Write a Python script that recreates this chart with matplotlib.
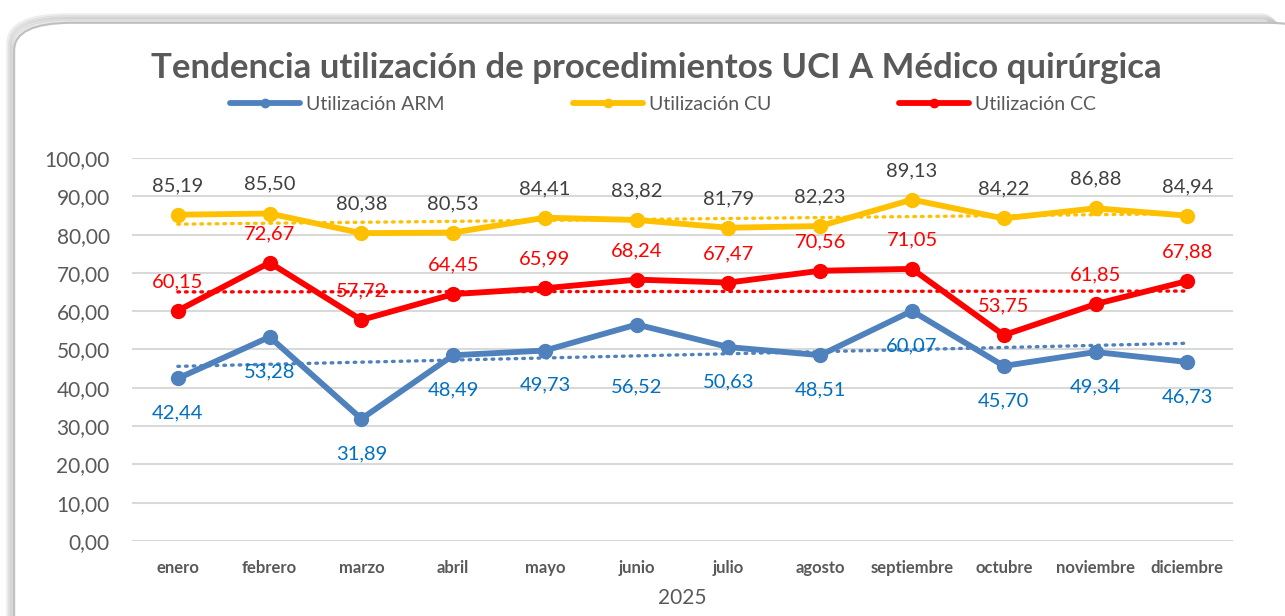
import numpy as np
import matplotlib.pyplot as plt
from matplotlib.patches import FancyBboxPatch

meses = ['enero', 'febrero', 'marzo', 'abril', 'mayo', 'junio', 'julio',
         'agosto', 'septiembre', 'octubre', 'noviembre', 'diciembre']
arm = [42.44, 53.28, 31.89, 48.49, 49.73, 56.52, 50.63, 48.51, 60.07, 45.70, 49.34, 46.73]
cu = [85.19, 85.50, 80.38, 80.53, 84.41, 83.82, 81.79, 82.23, 89.13, 84.22, 86.88, 84.94]
cc = [60.15, 72.67, 57.72, 64.45, 65.99, 68.24, 67.47, 70.56, 71.05, 53.75, 61.85, 67.88]
yticks = [0, 10, 20, 30, 40, 50, 60, 70, 80, 90, 100]

plt.rcParams['font.family'] = ['Lato', 'DejaVu Sans']

BLUE = '#4F81BD'
GOLD = '#FFC000'
RED = '#FF0000'
GRAY = '#595959'


def fmt(v):
    return f'{v:.2f}'.replace('.', ',')


fig = plt.figure(figsize=(12.85, 6.16), dpi=100)

# rounded frame with a soft shadow, like the Excel chart area
for i, a in enumerate([0.07, 0.06, 0.05, 0.04]):
    fig.patches.append(FancyBboxPatch((0.007 + i * 0.0015, -0.05), 1.02, 1.024 - i * 0.003,
                                      boxstyle='round,pad=0,rounding_size=0.045',
                                      transform=fig.transFigure, facecolor='none',
                                      edgecolor='black', alpha=a, linewidth=4, zorder=-2))
fig.patches.append(FancyBboxPatch((0.011, -0.05), 1.02, 1.013,
                                  boxstyle='round,pad=0,rounding_size=0.045',
                                  transform=fig.transFigure, facecolor='white',
                                  edgecolor='#BFBFBF', linewidth=1.5, zorder=-1))

ax = fig.add_axes([0.1027, 0.1218, 0.857, 0.6217])
ax.patch.set_alpha(0)
x = np.arange(len(meses))

series = [
    ('Utilización ARM', arm, BLUE, '#0070C0', -1),
    ('Utilización CU', cu, GOLD, '#404040', 1),
    ('Utilización CC', cc, RED, RED, 1),
]

handles = []
for name, vals, col, lcol, side in series:
    h, = ax.plot(x, vals, color=col, linewidth=4.2, marker='o', markersize=10,
                 solid_capstyle='round', solid_joinstyle='round', zorder=3, label=name)
    handles.append(h)
    # linear trendline
    m, b = np.polyfit(x, vals, 1)
    ax.plot(x, m * x + b, color=col, linewidth=2.4, linestyle=(0, (0.5, 1.8)),
            dash_capstyle='round', zorder=2)
    for i, v in enumerate(vals):
        off = 21 if side > 0 else -25
        if name == 'Utilización ARM' and i == 5:
            off = -45
        ax.annotate(fmt(v), (i, v), xytext=(0, off), textcoords='offset points',
                    ha='center', va='center', fontsize=14.5, color=lcol, zorder=4)

ax.set_xlim(-0.5, len(meses) - 0.5)
ax.set_ylim(0, 100)
ax.set_yticks(yticks)
ax.set_yticklabels([fmt(t) for t in yticks], fontsize=15, color=GRAY)
ax.set_xticks(x)
ax.set_xticklabels(meses, fontsize=12, fontweight='bold', color=GRAY)
ax.tick_params(length=0, pad=14)
ax.tick_params(axis='y', pad=16)
ax.grid(axis='y', color='#D9D9D9', linewidth=1.5)
ax.set_axisbelow(True)
for s in ax.spines.values():
    s.set_visible(False)
ax.set_xlabel('2025', fontsize=15, color=GRAY, labelpad=8)

fig.text(0.511, 0.889, 'Tendencia utilización de procedimientos UCI A Médico quirúrgica',
         ha='center', va='center', fontsize=25, fontweight='bold', color=GRAY)

leg = fig.legend(handles=handles, loc='center', bbox_to_anchor=(0.516, 0.83), ncol=3,
                 frameon=False, fontsize=14, handlelength=3.6, columnspacing=6.6,
                 handletextpad=0.3, markerscale=0.6)
for t in leg.get_texts():
    t.set_color(GRAY)

fig.savefig('out.png', dpi=100)
